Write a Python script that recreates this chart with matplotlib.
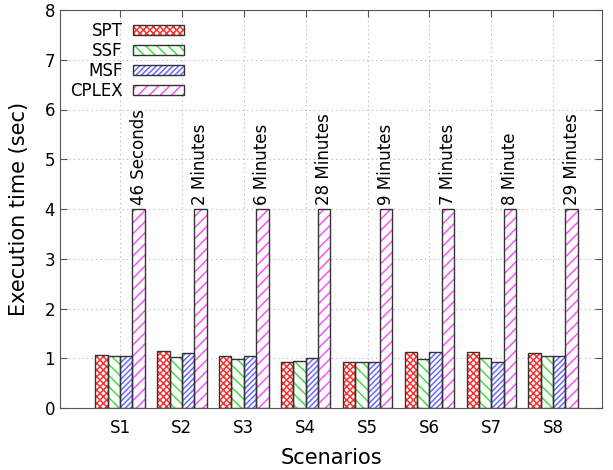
import matplotlib
matplotlib.use("Agg")
import matplotlib.pyplot as plt
from matplotlib.patches import Patch
from matplotlib.legend_handler import HandlerTuple
import numpy as np

scenarios = ["S1", "S2", "S3", "S4", "S5", "S6", "S7", "S8"]
spt = [1.07, 1.14, 1.04, 0.93, 0.92, 1.13, 1.13, 1.10]
ssf = [1.05, 1.03, 0.99, 0.95, 0.92, 0.99, 1.00, 1.04]
msf = [1.05, 1.10, 1.04, 1.00, 0.93, 1.12, 0.92, 1.04]
cplex = [4, 4, 4, 4, 4, 4, 4, 4]
cplex_labels = ["46 Seconds", "2 Minutes", "6 Minutes", "28 Minutes",
                "9 Minutes", "7 Minutes", "8 Minute", "29 Minutes"]
series_names = ["SPT", "SSF", "MSF", "CPLEX"]

colors = ["#ff3030", "#40e040", "#6a6aff", "#ff50ff"]
hatches = ["xxxxx", "\\\\\\", "//////", "///"]
plt.rcParams["hatch.linewidth"] = 1.1

fig = plt.figure(figsize=(6.13, 4.70), dpi=100)
ax = fig.add_axes([60/613, 62/470, 542/613, 398/470])

x = np.arange(1, len(scenarios) + 1)
w = 0.2
offsets = [-1.5*w, -0.5*w, 0.5*w, 1.5*w]
handles = []
for data, c, h, off in zip([spt, ssf, msf, cplex], colors, hatches, offsets):
    ax.bar(x + off, data, w, color="white", edgecolor=c, hatch=h, linewidth=0, zorder=2)
    ax.bar(x + off, data, w, fill=False, edgecolor="#333333", linewidth=1.0, zorder=3)
    p1 = Patch(facecolor="white", edgecolor=c, hatch=h, linewidth=0)
    p2 = Patch(fill=False, edgecolor="#333333", linewidth=1.0)
    handles.append((p1, p2))

for xi, v, lab in zip(x + offsets[3], cplex, cplex_labels):
    ax.text(xi, v + 0.08, lab, rotation=90, ha="center", va="bottom", fontsize=12)

ax.set_xlim(0.03, 8.79)
ax.set_ylim(0, 8)
ax.set_xticks(x)
ax.set_xticklabels(scenarios, fontsize=12)
ax.set_yticks(range(0, 9))
ax.tick_params(axis="y", labelsize=12)
ax.tick_params(direction="in", length=5, top=True, right=True, color="#555555")
ax.tick_params(axis="x", pad=8)
for s in ax.spines.values():
    s.set_color("#555555")
ax.grid(True, linestyle=(0, (1, 3)), color="#b0b0b0", linewidth=0.8, zorder=0)
ax.set_axisbelow(True)
ax.set_ylabel("Execution time (sec)", fontsize=15, va="center")
ax.yaxis.set_label_coords(-0.076, 0.5)
ax.set_xlabel("Scenarios", fontsize=15, va="center")
ax.xaxis.set_label_coords(0.5, -0.126)

leg = ax.legend(handles, series_names, loc="upper left", markerfirst=False,
                frameon=False, fontsize=12, handlelength=3.05, handleheight=0.6,
                labelspacing=0.12, handletextpad=0.65,
                handler_map={tuple: HandlerTuple(ndivide=1, pad=0)},
                bbox_to_anchor=(-0.003, 1.0), borderaxespad=0.3)

fig.savefig("out.png", dpi=100)
